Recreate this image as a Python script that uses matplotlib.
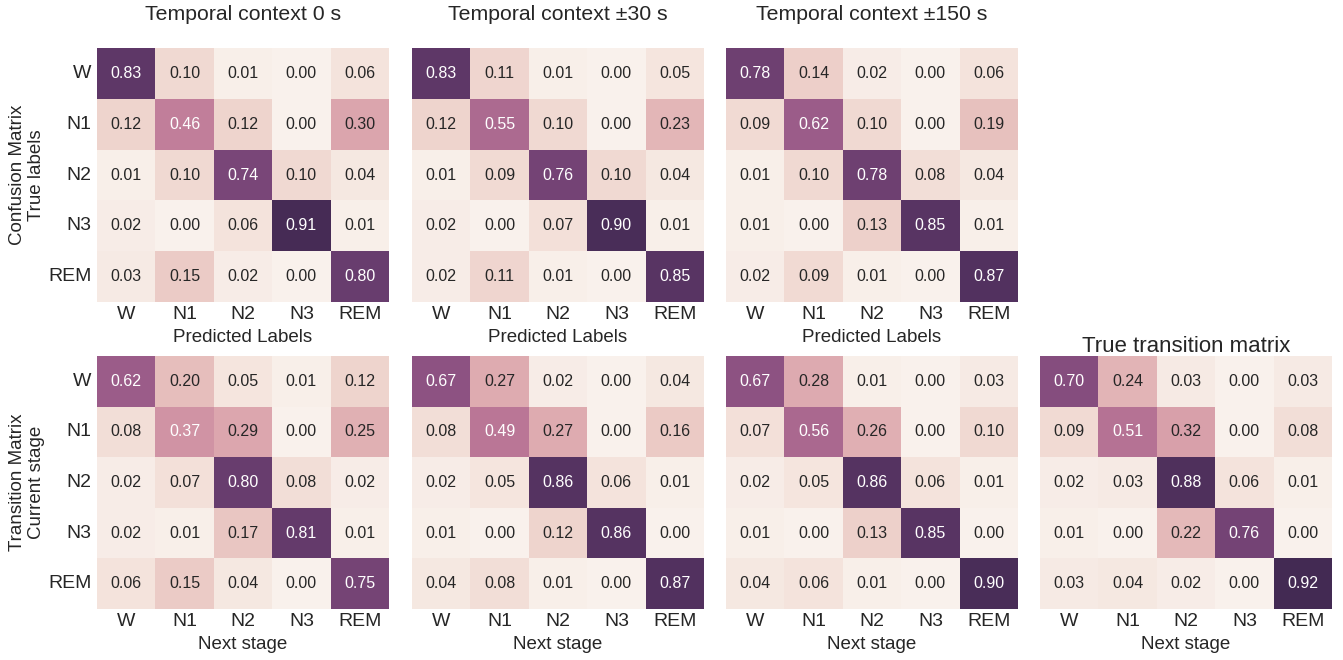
import numpy as np
import matplotlib
matplotlib.use("Agg")
import matplotlib.pyplot as plt
import seaborn as sns

sns.set_style("white")
plt.rcParams["font.family"] = ["Liberation Sans", "DejaVu Sans"]

stages = ["W", "N1", "N2", "N3", "REM"]
contexts = ["Temporal context 0 s", "Temporal context \u00b130 s", "Temporal context \u00b1150 s"]

conf_0 = [[0.83, 0.10, 0.01, 0.00, 0.06],
          [0.12, 0.46, 0.12, 0.00, 0.30],
          [0.01, 0.10, 0.74, 0.10, 0.04],
          [0.02, 0.00, 0.06, 0.91, 0.01],
          [0.03, 0.15, 0.02, 0.00, 0.80]]
conf_30 = [[0.83, 0.11, 0.01, 0.00, 0.05],
           [0.12, 0.55, 0.10, 0.00, 0.23],
           [0.01, 0.09, 0.76, 0.10, 0.04],
           [0.02, 0.00, 0.07, 0.90, 0.01],
           [0.02, 0.11, 0.01, 0.00, 0.85]]
conf_150 = [[0.78, 0.14, 0.02, 0.00, 0.06],
            [0.09, 0.62, 0.10, 0.00, 0.19],
            [0.01, 0.10, 0.78, 0.08, 0.04],
            [0.01, 0.00, 0.13, 0.85, 0.01],
            [0.02, 0.09, 0.01, 0.00, 0.87]]

trans_0 = [[0.62, 0.20, 0.05, 0.01, 0.12],
           [0.08, 0.37, 0.29, 0.00, 0.25],
           [0.02, 0.07, 0.80, 0.08, 0.02],
           [0.02, 0.01, 0.17, 0.81, 0.01],
           [0.06, 0.15, 0.04, 0.00, 0.75]]
trans_30 = [[0.67, 0.27, 0.02, 0.00, 0.04],
            [0.08, 0.49, 0.27, 0.00, 0.16],
            [0.02, 0.05, 0.86, 0.06, 0.01],
            [0.01, 0.00, 0.12, 0.86, 0.00],
            [0.04, 0.08, 0.01, 0.00, 0.87]]
trans_150 = [[0.67, 0.28, 0.01, 0.00, 0.03],
             [0.07, 0.56, 0.26, 0.00, 0.10],
             [0.02, 0.05, 0.86, 0.06, 0.01],
             [0.01, 0.00, 0.13, 0.85, 0.00],
             [0.04, 0.06, 0.01, 0.00, 0.90]]
trans_true = [[0.70, 0.24, 0.03, 0.00, 0.03],
              [0.09, 0.51, 0.32, 0.00, 0.08],
              [0.02, 0.03, 0.88, 0.06, 0.01],
              [0.01, 0.00, 0.22, 0.76, 0.00],
              [0.03, 0.04, 0.02, 0.00, 0.92]]

cmap = sns.cubehelix_palette(light=0.95, dark=0.15, as_cmap=True)

W, H = 1343, 660
fig = plt.figure(figsize=(W / 100, H / 100), dpi=100)

col_x = [97, 412, 726, 1040]
aw = 292
row_y = [(48, 302), (356, 609)]


def make_ax(col, row):
    y0, y1 = row_y[row]
    return fig.add_axes([col_x[col] / W, 1 - y1 / H, aw / W, (y1 - y0) / H])


def draw(ax, mat, xlabel, show_y):
    sns.heatmap(np.array(mat), ax=ax, cmap=cmap, vmin=0, vmax=1, cbar=False,
                annot=True, fmt=".2f", annot_kws={"fontsize": 11.5},
                xticklabels=stages, yticklabels=stages if show_y else False)
    ax.tick_params(axis="x", length=0, labelsize=14, pad=3)
    ax.tick_params(axis="y", length=0, labelsize=14, pad=4)
    if show_y:
        ax.set_yticklabels(ax.get_yticklabels(), rotation=0)
    ax.set_xlabel(xlabel, fontsize=13.5, labelpad=4)


for i, m in enumerate([conf_0, conf_30, conf_150]):
    ax = make_ax(i, 0)
    draw(ax, m, "Predicted Labels", i == 0)
    ax.set_title(contexts[i], fontsize=15.3, pad=20)
    if i == 0:
        ax.set_ylabel("Confusion Matrix\nTrue labels", fontsize=13.5, labelpad=2)

for i, m in enumerate([trans_0, trans_30, trans_150, trans_true]):
    ax = make_ax(i, 1)
    draw(ax, m, "Next stage", i == 0)
    if i == 0:
        ax.set_ylabel("Transition Matrix\nCurrent stage", fontsize=13.5, labelpad=2)
    if i == 3:
        ax.set_title("True transition matrix", fontsize=16, pad=3)

fig.savefig("out.png", dpi=100)
